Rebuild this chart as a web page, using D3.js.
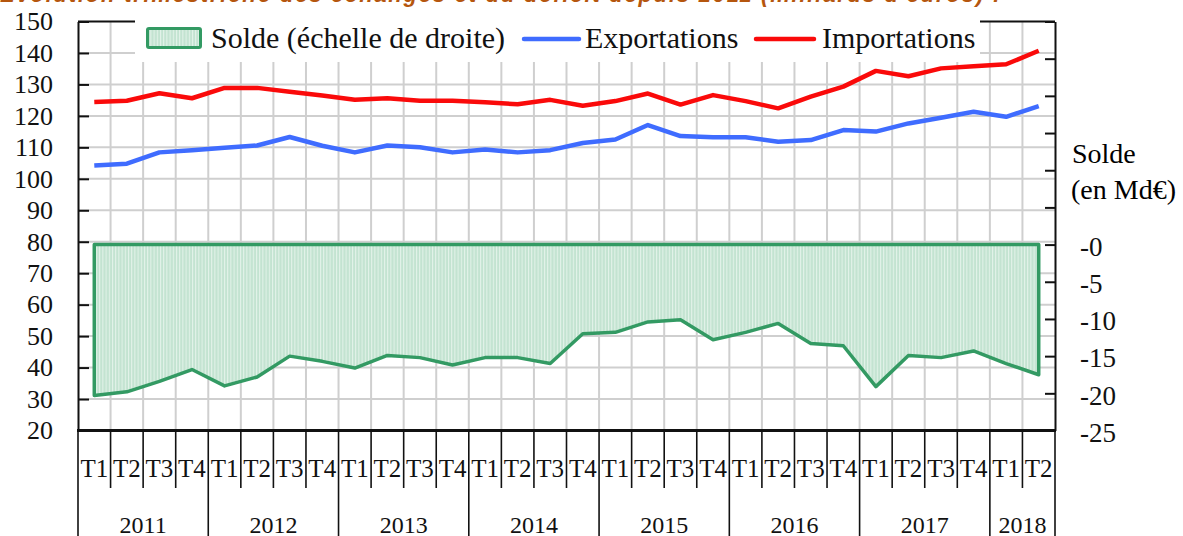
<!DOCTYPE html>
<meta charset="utf-8">
<script src="https://cdn.jsdelivr.net/npm/d3@7/dist/d3.min.js"></script>
<style>
body { margin: 0; background: #fff; }
svg { display: block; }
.ax text { font-family: "Liberation Serif", "Times New Roman", serif; fill: #111; }
</style>
<body>
<script>
var width = 1183, height = 536;

// donnees trimestrielles 2011T1 -> 2018T2 (Md€)
var years = ["2011", "2012", "2013", "2014", "2015", "2016", "2017", "2018"];
var quarterNames = ["T1", "T2", "T3", "T4"];
var exportations = [104.2, 104.8, 108.4, 109.1, 109.9, 110.6, 113.3, 110.5, 108.4, 110.6,
                    110.0, 108.4, 109.3, 108.4, 109.1, 111.4, 112.5, 117.1, 113.6, 113.2,
                    113.2, 111.8, 112.3, 115.5, 115.0, 117.6, 119.4, 121.3, 119.7, 123.1];
var importations = [124.4, 124.8, 127.2, 125.6, 128.9, 128.9, 127.7, 126.5, 125.1, 125.6,
                    124.8, 124.8, 124.3, 123.7, 125.1, 123.2, 124.7, 127.1, 123.6, 126.6,
                    124.7, 122.4, 126.1, 129.3, 134.3, 132.6, 135.1, 135.8, 136.4, 140.7];
var solde = [-20.3, -19.8, -18.4, -16.8, -19.0, -17.8, -15.0, -15.7, -16.6, -14.9,
             -15.2, -16.2, -15.2, -15.2, -16.0, -12.0, -11.8, -10.4, -10.1, -12.8,
             -11.8, -10.6, -13.3, -13.6, -19.1, -14.9, -15.2, -14.3, -16.0, -17.5];
var leftTicks = d3.range(20, 151, 10);
var rightTicks = d3.range(-25, 31, 5);

var quarters = [];
years.forEach(function(y) {
  quarterNames.forEach(function(q) { quarters.push({year: y, q: q, id: y + q}); });
});
quarters = quarters.slice(0, exportations.length);

var pLeft = 78, pRight = 1055, pTop = 21.5, pBottom = 430.5;

var x = d3.scaleBand().domain(quarters.map(function(d) { return d.id; })).range([pLeft, pRight]);
var yL = d3.scaleLinear().domain([20, 150]).range([pBottom, pTop]);
var yR = d3.scaleLinear().domain([-25, 30]).range([pBottom, pTop]);
var cx = function(i) { return x(quarters[i].id) + x.bandwidth() / 2; };

var svg = d3.select("body").append("svg")
    .attr("width", width)
    .attr("height", height);

var defs = svg.append("defs");
var pat = defs.append("pattern")
    .attr("id", "hatch")
    .attr("patternUnits", "userSpaceOnUse")
    .attr("width", 3.2).attr("height", 4);
pat.append("rect").attr("width", 3.2).attr("height", 4).attr("fill", "#c3e3d1");
pat.append("rect").attr("width", 1).attr("height", 4).attr("fill", "#e4f3ea");

// titre (coupe en haut)
svg.append("text")
    .attr("x", 0).attr("y", 2)
    .attr("textLength", 1000)
    .style("font", "italic bold 22px 'Liberation Sans', Arial, sans-serif")
    .style("fill", "#b5560e")
    .text("Évolution trimestrielle des échanges et du déficit depuis 2011 (milliards d'euros) :");

// grille
svg.append("g").selectAll("line")
    .data(leftTicks.slice(1, -1))
    .enter().append("line")
    .attr("x1", pLeft).attr("x2", pRight)
    .attr("y1", function(d) { return yL(d); })
    .attr("y2", function(d) { return yL(d); })
    .attr("stroke", "#cfcfcf").attr("stroke-width", 2);

svg.append("g").selectAll("line")
    .data(quarters.slice(1))
    .enter().append("line")
    .attr("x1", function(d) { return x(d.id); })
    .attr("x2", function(d) { return x(d.id); })
    .attr("y1", pTop).attr("y2", pBottom)
    .attr("stroke", "#cfcfcf").attr("stroke-width", 2);

// solde (aire)
var area = d3.area()
    .x(function(d, i) { return cx(i); })
    .y0(yR(0))
    .y1(function(d) { return yR(d); });

svg.append("path")
    .datum(solde)
    .attr("d", function(d) { return area(d) + "Z"; })
    .attr("fill", "url(#hatch)")
    .attr("stroke", "#339a63")
    .attr("stroke-width", 3.5)
    .attr("stroke-linejoin", "round");

var line = d3.line()
    .x(function(d, i) { return cx(i); })
    .y(function(d) { return yL(d); });

svg.append("path")
    .datum(exportations)
    .attr("d", line)
    .attr("fill", "none")
    .attr("stroke", "#3f6cff")
    .attr("stroke-width", 4.5)
    .attr("stroke-linejoin", "round");

svg.append("path")
    .datum(importations)
    .attr("d", line)
    .attr("fill", "none")
    .attr("stroke", "#fa0a0a")
    .attr("stroke-width", 4.5)
    .attr("stroke-linejoin", "round");

// cadre
svg.append("line").attr("x1", pLeft).attr("x2", pRight).attr("y1", pTop).attr("y2", pTop)
    .attr("stroke", "#111").attr("stroke-width", 2);

// axes
var axL = svg.append("g")
    .attr("class", "ax")
    .attr("transform", "translate(" + pLeft + ",0)")
    .call(d3.axisLeft(yL).tickValues(leftTicks).tickSize(-11).tickSizeOuter(0).tickPadding(25));
axL.selectAll("text").style("font-size", "26px");

var axR = svg.append("g")
    .attr("class", "ax")
    .attr("transform", "translate(" + pRight + ",0)")
    .call(d3.axisRight(yR).tickValues(rightTicks).tickSize(-10).tickSizeOuter(0).tickPadding(25)
      .tickFormat(function(d) { return d <= 0 ? "-" + Math.abs(d) : ""; }));
axR.selectAll("text").style("font-size", "27px").attr("dy", "0.4em");

svg.selectAll(".ax path").attr("stroke", "#111").attr("stroke-width", 2);
svg.selectAll(".ax line").attr("stroke", "#111").attr("stroke-width", 2);

svg.append("text")
    .attr("x", 1072).attr("y", 163)
    .style("font", "28px 'Liberation Serif', serif")
    .text("Solde");
svg.append("text")
    .attr("x", 1071).attr("y", 199)
    .style("font", "28px 'Liberation Serif', serif")
    .text("(en Md€)");

// axe des x
svg.append("line").attr("x1", pLeft - 1).attr("x2", pRight + 1).attr("y1", pBottom).attr("y2", pBottom)
    .attr("stroke", "#111").attr("stroke-width", 3);

svg.append("g").selectAll("line")
    .data(quarters.concat([null]))
    .enter().append("line")
    .attr("x1", function(d, i) { return pLeft + i * x.bandwidth(); })
    .attr("x2", function(d, i) { return pLeft + i * x.bandwidth(); })
    .attr("y1", pBottom)
    .attr("y2", function(d, i) { return (i % 4 == 0 || i == quarters.length) ? height : 488; })
    .attr("stroke", "#111").attr("stroke-width", 1.6);

svg.append("g").selectAll("text")
    .data(quarters)
    .enter().append("text")
    .attr("x", function(d) { return x(d.id) + x.bandwidth() / 2; })
    .attr("y", 477)
    .attr("text-anchor", "middle")
    .style("font", "25px 'Liberation Serif', serif")
    .style("fill", "#111")
    .text(function(d) { return d.q; });

svg.append("g").selectAll("text")
    .data(years)
    .enter().append("text")
    .attr("x", function(d) {
      var qs = quarters.filter(function(q) { return q.year == d; });
      return (x(qs[0].id) + x(qs[qs.length - 1].id) + x.bandwidth()) / 2;
    })
    .attr("y", 533)
    .attr("text-anchor", "middle")
    .style("font", "24px 'Liberation Serif', serif")
    .style("fill", "#111")
    .text(function(d) { return d; });

// legende
var lg = svg.append("g");
lg.append("rect").attr("x", 135).attr("y", 14).attr("width", 845).attr("height", 48).attr("fill", "#fff");
lg.append("rect").attr("x", 147.5).attr("y", 28.5).attr("width", 53).attr("height", 19)
    .attr("fill", "url(#hatch)").attr("stroke", "#339a63").attr("stroke-width", 3).attr("rx", 1.5);
lg.append("line").attr("x1", 524).attr("x2", 579).attr("y1", 39).attr("y2", 39)
    .attr("stroke", "#3f6cff").attr("stroke-width", 4.5).attr("stroke-linecap", "round");
lg.append("line").attr("x1", 756).attr("x2", 814).attr("y1", 39).attr("y2", 39)
    .attr("stroke", "#fa0a0a").attr("stroke-width", 4.5).attr("stroke-linecap", "round");
lg.selectAll("text")
    .data([["Solde (échelle de droite)", 211], ["Exportations", 585], ["Importations", 822]])
    .enter().append("text")
    .attr("x", function(d) { return d[1]; })
    .attr("y", 48)
    .style("font", "30px 'Liberation Serif', serif")
    .style("fill", "#111")
    .text(function(d) { return d[0]; });
</script>
</body>
</html>
